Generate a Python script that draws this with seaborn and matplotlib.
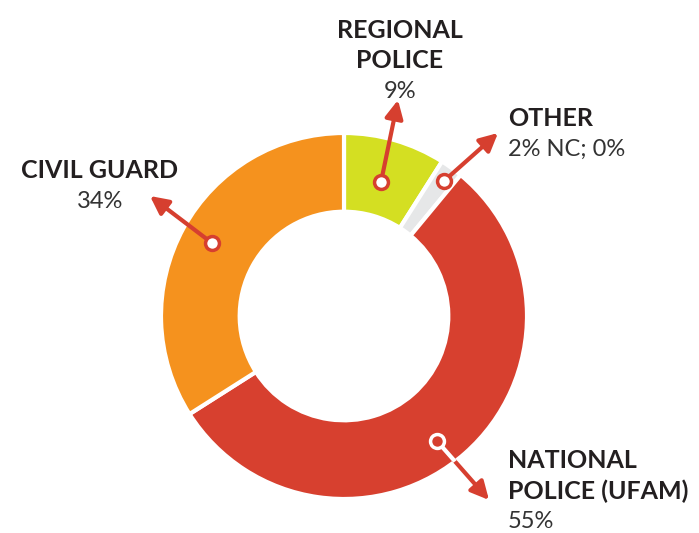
import numpy as np
import matplotlib
matplotlib.use("Agg")
import matplotlib.pyplot as plt
import seaborn as sns

# data (clockwise from the top)
categories = ["REGIONAL\nPOLICE", "OTHER", "NATIONAL\nPOLICE (UFAM)", "CIVIL GUARD"]
shares = [9, 2, 55, 34]
value_labels = ["9%", "2% NC; 0%", "55%", "34%"]
colors = ["#d4df22", "#e6e7e8", "#d7402f", "#f5921e"]

sns.set_theme(style="white")
plt.rcParams["font.family"] = ["Lato", "DejaVu Sans"]

W, H = 699, 533
fig = plt.figure(figsize=(W / 100, H / 100), dpi=100)
ax = fig.add_axes([0, 0, 1, 1])

cx, cy, r = 344, H - 316, 183
wedges, _ = ax.pie(shares, colors=colors, startangle=90, counterclock=False,
                   center=(cx, cy), radius=r, frame=True,
                   wedgeprops=dict(width=r * 0.43, edgecolor="white", linewidth=3))
ax.set_xlim(0, W)
ax.set_ylim(0, H)
ax.set_aspect("equal")
ax.axis("off")

red = "#d63f2f"
dark = "#231f20"

# dot on the wedge -> arrow head, in pixel coords (y from top)
pointers = [((381, 182), (398, 100)),
            ((444, 181), (498, 133)),
            ((437, 441), (489, 500)),
            ((212, 243), (150, 196))]

for i, (p0, p1) in enumerate(pointers):
    x0, y0 = p0[0], H - p0[1]
    x1, y1 = p1[0], H - p1[1]
    ax.annotate("", xy=(x1, y1), xytext=(x0, y0),
                arrowprops=dict(arrowstyle="-|>,head_length=0.9,head_width=0.45",
                                color=red, lw=3, shrinkA=0, shrinkB=0))
    if colors[i] == "#d7402f":
        # on the red wedge the pointer is drawn in white
        ln, = ax.plot([x0, x1], [y0, y1], color="white", lw=3, zorder=4)
        ln.set_clip_path(wedges[i])
        ax.plot(x0, y0, "o", ms=10, mfc=red, mec="white", mew=2.5, zorder=5)
    else:
        ax.plot(x0, y0, "o", ms=10, mfc="white", mec=red, mew=2.5, zorder=5)

# labels, one line at a time
label_pos = [(400, 30, "center"), (508, 118, "left"), (508, 460, "left"), (100, 170, "center")]
step = 31
for (x, y, ha), name, val in zip(label_pos, categories, value_labels):
    lines = name.split("\n")
    for k, line in enumerate(lines):
        ax.text(x, H - (y + k * step), line, ha=ha, va="center", fontsize=18,
                fontweight="bold", color=dark)
    ax.text(x, H - (y + len(lines) * step), val, ha=ha, va="center",
            fontsize=17, color="#333333")

fig.savefig("out.png", dpi=100)
